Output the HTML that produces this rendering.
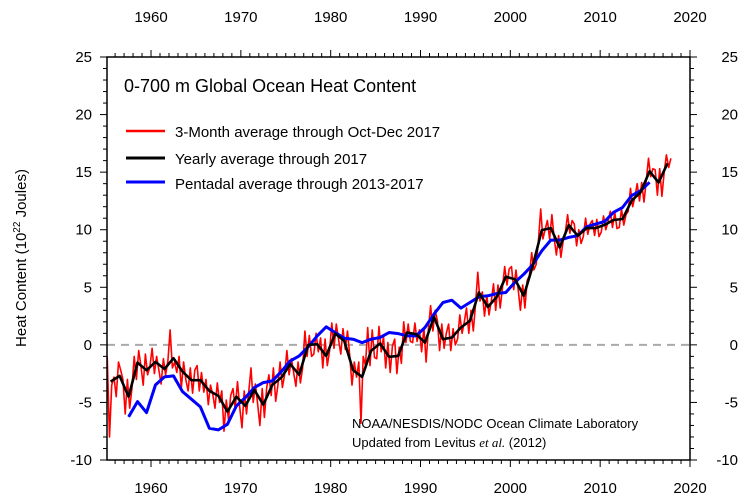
<!DOCTYPE html>
<html><head><meta charset="utf-8"><style>
html,body{margin:0;padding:0;background:#fff}
svg{display:block;font-family:"Liberation Sans",sans-serif}
</style></head><body>
<svg id="chart" width="747" height="503" viewBox="0 0 747 503" xmlns="http://www.w3.org/2000/svg">
<rect x="0" y="0" width="747" height="503" fill="#fff"/>
<g id="grid"></g>
<g id="series"></g>
<g id="axes"></g>
<text x="124" y="92" font-size="18" fill="#000">0-700 m Global Ocean Heat Content</text>
<g>
<line x1="126" y1="131" x2="165" y2="131" stroke="#ff0000" stroke-width="2.5"/>
<text x="175" y="137" font-size="15">3-Month average through Oct-Dec 2017</text>
<line x1="126" y1="158" x2="165" y2="158" stroke="#000" stroke-width="3"/>
<text x="175" y="164" font-size="15">Yearly average through 2017</text>
<line x1="126" y1="182" x2="165" y2="182" stroke="#0000ff" stroke-width="3"/>
<text x="175" y="189" font-size="15">Pentadal average through 2013-2017</text>
</g>
<text x="352" y="428" font-size="13">NOAA/NESDIS/NODC Ocean Climate Laboratory</text>
<text x="352" y="447" font-size="13">Updated from Levitus <tspan font-family="Liberation Serif,serif" font-style="italic">et al.</tspan> (2012)</text>
<text transform="translate(26,258) rotate(-90)" text-anchor="middle" font-size="15">Heat Content (10<tspan dy="-6" font-size="10">22</tspan><tspan dy="6"> Joules)</tspan></text>
</svg>
<script>
const yearlyStart = 1955;
const yearlyValues = [-3.19,-2.7,-4.5,-1.54,-2.2,-1.48,-2.1,-1.16,-2.32,-3.07,-3.07,-4.0,-4.43,-5.8,-4.5,-5.3,-3.9,-5.2,-3.48,-2.84,-1.68,-2.6,0,0.06,-0.96,0.98,0.35,-2.2,-2.78,-0.52,0.12,-1.04,-0.96,1.07,0.93,
0.2,2.42,0.49,0.64,1.51,2.09,4.55,3.3,4.17,5.91,5.71,4.26,6.87,9.97,10.14,8.46,10.4,9.48,10.14,10.14,10.43,10.84,10.93,12.52,13.25,15.07,14.1,15.77];
const pentadalStart = 1957;
const pentadalValues = [-6.26,-4.93,-5.88,-3.48,-2.78,-2.7,-4.06,-4.72,-5.39,-7.25,-7.39,-6.9,-5.3,-4.58,-3.71,-3.28,-3.13,-2.32,-1.39,-0.96,-0.17,0.78,1.57,1.07,0.58,0.49,0.2,0.49,0.64,1.07,0.98,0.78,0.78,
1.51,2.67,3.68,3.88,3.19,3.68,4.17,4.26,4.46,4.55,5.42,6.14,6.96,8.17,9.1,9.1,9.33,9.48,10.26,10.49,10.72,11.51,11.94,12.96,13.39,14.12];
const quarterStart = 1955;
const quarterValues = [
-1.0,-8.0,-3.5,-2.8, -4.5,-1.5,-2.2,-3.0, -6.0,-3.0,-5.5,-3.8, -1.0,-3.0,-0.5,-1.8, -3.5,-0.8,-2.6,-1.9,
-0.3,-2.5,-1.0,-2.2, -3.4,-1.2,-2.6,-1.4, 1.3,-2.0,-1.5,-2.4, -1.0,-3.8,-1.5,-3.0, -4.0,-2.0,-4.2,-2.2,
-1.8,-4.0,-2.4,-4.1, -3.0,-5.2,-3.5,-4.3, -5.5,-3.3,-5.0,-4.0, -7.5,-4.8,-6.5,-4.4, -3.8,-5.5,-3.2,-5.4,
-7.2,-4.0,-6.0,-4.1, -2.0,-5.0,-3.4,-5.2, -7.0,-3.8,-6.3,-3.7, -2.6,-4.4,-2.0,-4.9, -3.5,-1.5,-3.7,-2.6,
-0.5,-2.6,-1.2,-2.4, -3.6,-1.5,-3.3,-2.0, 1.2,-1.0,0.8,-1.0, -0.8,1.0,-0.6,0.6, -2.0,0.5,-1.8,-0.5,
1.9,-0.3,1.8,0.5, -0.8,1.4,-0.4,1.2, -1.0,-3.5,-1.5,-2.8, -1.5,-6.8,-1.0,-1.8, 1.5,-1.8,1.3,-1.1,
-1.2,1.6,-0.6,0.7, -2.0,0.2,-2.4,-0.1, 0.5,-2.5,-0.2,-1.6, 2.0,0.2,1.8,0.3, 0.2,1.9,0.3,1.3,
-0.6,1.5,-1.5,1.4, 3.4,1.2,3.0,2.1, -0.5,1.8,-0.3,1.0, 1.8,-0.5,1.4,0.0, 0.5,2.6,1.0,2.0,
3.2,1.0,3.0,1.2, 3.5,6.3,3.8,4.6, 2.5,4.3,2.6,3.8, 5.3,3.0,5.2,3.2, 5.0,6.8,5.2,6.6,
6.8,4.8,6.5,4.8, 3.0,5.2,3.2,5.6, 6.0,8.0,6.5,7.0, 9.0,11.8,9.2,10.0, 10.8,9.2,11.3,9.3,
7.8,9.5,7.6,9.0, 9.8,11.3,9.7,10.8, 10.5,8.6,10.0,8.8, 9.4,11.0,9.6,10.5, 10.8,9.5,10.9,9.4,
9.8,11.2,10.0,10.7, 11.6,10.2,11.5,10.1, 10.2,11.8,10.4,11.3, 11.6,13.6,12.0,12.9, 14.0,12.5,14.1,12.4,
14.2,16.2,14.6,15.3, 15.2,13.0,15.3,12.9, 15.0,16.5,15.4,16.2];
const xTickLabels = ["1960","1970","1980","1990","2000","2010","2020"];
const yTickLabels = ["-10","-5","0","5","10","15","20","25"];

const L=107,R=690,T=57,B=460, X0=1955.1,X1=2020, Y0=-10,Y1=25;
const xs=v=>L+(v-X0)/(X1-X0)*(R-L);
const ys=v=>B-(v-Y0)/(Y1-Y0)*(B-T);
const NS="http://www.w3.org/2000/svg";
function mk(tag,attrs,parent){const e=document.createElementNS(NS,tag);for(const k in attrs)e.setAttribute(k,attrs[k]);parent.appendChild(e);return e;}
const grid=document.getElementById('grid'),ser=document.getElementById('series'),ax=document.getElementById('axes');

let zl=mk('line',{x1:L,x2:R,y1:ys(0),y2:ys(0),stroke:'#aaa','stroke-width':2,'stroke-dasharray':'8,6'},grid);



function poly(times,vals,color,w,name){
  const pts=vals.map((v,i)=>xs(times[i]).toFixed(1)+','+ys(v).toFixed(1)).join(' ');
  const p=mk('polyline',{points:pts,fill:'none',stroke:color,'stroke-width':w,'stroke-linejoin':'round'},ser);
  
  
}
poly(quarterValues.map((v,i)=>quarterStart+0.125+0.25*i),quarterValues,'#ff0000',1.6,'series-3month');
poly(pentadalValues.map((v,i)=>pentadalStart+0.5+i),pentadalValues,'#0000ff',3,'series-pentadal');
poly(yearlyValues.map((v,i)=>yearlyStart+0.5+i),yearlyValues,'#000',2.6,'series-yearly');

let fr=mk('rect',{x:L,y:T,width:R-L,height:B-T,fill:'none',stroke:'#000','stroke-width':1.5},ax);


for(let yr=1956;yr<=2020;yr++){
  const x=xs(yr), major=yr%10===0, len=major?7:4;
  mk('line',{x1:x,x2:x,y1:B,y2:B+len,stroke:'#000','stroke-width':1},ax);
  mk('line',{x1:x,x2:x,y1:T,y2:T-len,stroke:'#000','stroke-width':1},ax);
}
for(let v=Y0;v<=Y1;v++){
  const y=ys(v), major=v%5===0, len=major?7:4;
  mk('line',{x1:L,x2:L-len,y1:y,y2:y,stroke:'#000','stroke-width':1},ax);
  mk('line',{x1:R,x2:R+len,y1:y,y2:y,stroke:'#000','stroke-width':1},ax);
}
xTickLabels.forEach(s=>{
  const x=xs(+s);
  let t=mk('text',{x:x,y:493,'text-anchor':'middle','font-size':15},ax);t.textContent=s;
  
  
  let t2=mk('text',{x:x,y:22,'text-anchor':'middle','font-size':15},ax);t2.textContent=s;
  
  
});
yTickLabels.forEach(s=>{
  const y=ys(+s)+5;
  let t=mk('text',{x:92,y:y,'text-anchor':'end','font-size':15},ax);t.textContent=s;
  
  
  let t2=mk('text',{x:738,y:y,'text-anchor':'end','font-size':15},ax);t2.textContent=s;
  
  
});
</script>
</body></html>
